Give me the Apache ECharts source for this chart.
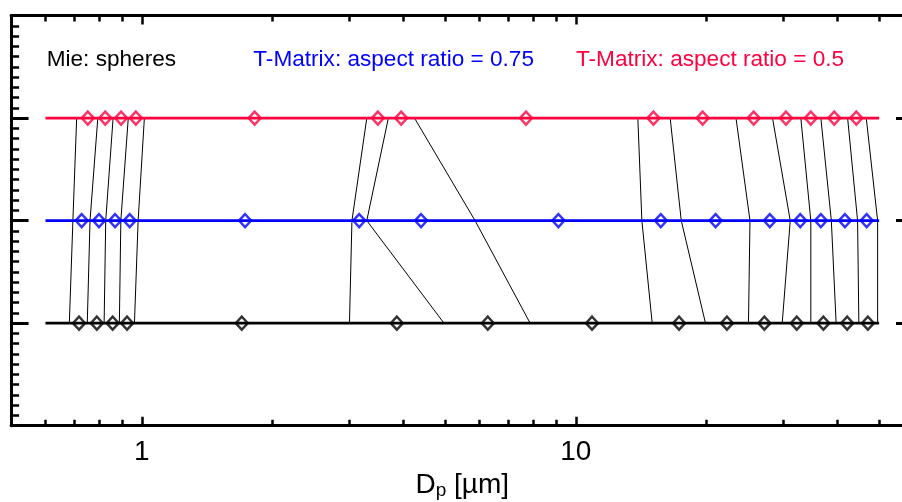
<!DOCTYPE html>
<html>
<head>
<meta charset="utf-8">
<script src="https://cdn.jsdelivr.net/npm/echarts@6/dist/echarts.min.js"></script>
<style>
  html, body { margin: 0; padding: 0; background: #ffffff; }
  #chart { width: 902px; height: 502px; }
</style>
</head>
<body>
<div id="chart"></div>
<script>
// Size-bin layout of three scattering models on a common diameter axis (µm).
// Each row holds the bin centres (diamonds); thin black lines join the
// matching bin edges from row to row.

const rowNames = ['Mie: spheres', 'T-Matrix: aspect ratio = 0.75', 'T-Matrix: aspect ratio = 0.5'];
const rowLevels = [1, 2, 3];
const rowSpan = [0.6, 50];

// bin centres, µm
const mieCenters  = [0.717, 0.788, 0.857, 0.925, 1.70, 3.87, 6.27, 10.9, 17.3, 22.3, 27.2, 32.3, 37.2, 42.2, 47.1];
const t075Centers = [0.727, 0.797, 0.868, 0.938, 1.73, 3.17, 4.40, 9.12, 15.7, 21.0, 28.0, 32.9, 36.7, 41.7, 46.8];
const t05Centers  = [0.751, 0.824, 0.896, 0.969, 1.82, 3.50, 3.96, 7.68, 15.1, 19.6, 25.7, 30.5, 34.8, 39.4, 44.3];

// bin edges, µm
const mieEdges  = [0.681, 0.749, 0.819, 0.888, 0.962, 3.01, 4.97, 7.85, 15.0, 19.9, 25.0, 29.9, 34.8, 39.8, 44.9, 49.6];
const t075Edges = [0.694, 0.760, 0.826, 0.895, 0.981, 3.05, 3.30, 5.86, 14.2, 17.5, 25.2, 31.2, 34.8, 38.8, 44.6, 49.6];
const t05Edges  = [0.708, 0.792, 0.859, 0.931, 1.014, 3.30, 3.70, 4.25, 13.9, 16.5, 23.4, 28.4, 33.0, 36.7, 42.3, 46.7];

// axis ticks
const xMajorTicks = [1, 10];
const xMinorTicks = [0.6, 0.7, 0.8, 0.9, 2, 3, 4, 5, 6, 7, 8, 9, 20, 30, 40, 50];
const xRange = [0.5, 60];
const yRange = [0, 4];

const FONT = '"Liberation Sans", Arial, Helvetica, sans-serif';
const RED = '#ff0040';
const BLUE = '#0000ff';
const BLACK = '#000000';
const rowColors = [BLACK, BLUE, RED];
const rowCenters = [mieCenters, t075Centers, t05Centers];

const gridBox = {
  left: 11.1, right: -11.5, top: 15.5, bottom: 76.3,
  containLabel: false, outerBoundsMode: 'none'
};

function logAxis(gridIndex, position, ticks, tickLen, tickWidth, withLine, withLabels) {
  const ax = {
    type: 'log',
    logBase: 10,
    gridIndex: gridIndex,
    position: position,
    min: xRange[0],
    max: xRange[1],
    axisLine: { show: withLine, onZero: false, lineStyle: { color: BLACK, width: 3 } },
    axisTick: { show: true, inside: true, length: tickLen, customValues: ticks,
                lineStyle: { color: BLACK, width: tickWidth } },
    axisLabel: { show: false },
    splitLine: { show: false },
    minorTick: { show: false },
    minorSplitLine: { show: false }
  };
  if (withLabels) {
    ax.axisLabel = {
      show: true, customValues: xMajorTicks, margin: 13,
      color: BLACK, fontSize: 28, fontFamily: FONT,
      formatter: function (v) { return String(v); }
    };
    ax.name = '{d|D}{s|p}{d| [µm]}';
    ax.nameLocation = 'middle';
    ax.nameGap = 45;
    ax.nameTextStyle = {
      color: BLACK, fontFamily: FONT,
      rich: {
        d: { fontSize: 28, fontFamily: FONT, color: BLACK, lineHeight: 30 },
        s: { fontSize: 19, fontFamily: FONT, color: BLACK, lineHeight: 14, verticalAlign: 'bottom' }
      }
    };
  }
  return ax;
}

function valAxis(gridIndex, position, visible) {
  return {
    type: 'value',
    gridIndex: gridIndex,
    position: position,
    min: yRange[0],
    max: yRange[1],
    interval: 1,
    show: visible,
    axisLine: { show: true, onZero: false, lineStyle: { color: BLACK, width: 3 } },
    axisTick: { show: true, inside: true, length: 17.5, lineStyle: { color: BLACK, width: 3 } },
    minorTick: { show: true, splitNumber: 10, length: 8, lineStyle: { color: BLACK, width: 2.5 } },
    axisLabel: { show: false },
    splitLine: { show: false },
    minorSplitLine: { show: false }
  };
}

const series = [];

// connectors between matching bin edges (top row -> middle row -> bottom row)
for (let k = 0; k < mieEdges.length; k++) {
  series.push({
    type: 'line', xAxisIndex: 0, yAxisIndex: 0, silent: true, z: 1,
    symbol: 'none',
    lineStyle: { color: BLACK, width: 1 },
    data: [[t05Edges[k], rowLevels[2]], [t075Edges[k], rowLevels[1]], [mieEdges[k], rowLevels[0]]]
  });
}

// one horizontal line per model
rowLevels.forEach(function (lv, i) {
  series.push({
    type: 'line', name: rowNames[i], xAxisIndex: 0, yAxisIndex: 0, silent: true, z: 2,
    symbol: 'none',
    lineStyle: { color: rowColors[i], width: 2.7 },
    data: rowSpan.map(function (x) { return [x, lv]; })
  });
});

// bin centres as open diamonds
rowLevels.forEach(function (lv, i) {
  series.push({
    type: 'scatter', name: rowNames[i], xAxisIndex: 0, yAxisIndex: 0, silent: true, z: 3,
    symbol: 'diamond',
    symbolSize: [12, 13],
    itemStyle: { color: 'rgba(0,0,0,0)', borderColor: rowColors[i], borderWidth: 2.5 },
    data: rowCenters[i].map(function (x) { return [x, lv]; })
  });
});

const legendX = [46.7, 253.3, 576];

const option = {
  animation: false,
  backgroundColor: '#ffffff',
  grid: [Object.assign({}, gridBox), Object.assign({}, gridBox)],
  xAxis: [
    logAxis(0, 'bottom', xMajorTicks, 9, 2.5, true, true),
    logAxis(0, 'top', xMajorTicks, 9, 2.5, true, false),
    logAxis(1, 'bottom', xMinorTicks, 6, 2.5, false, false),
    logAxis(1, 'top', xMinorTicks, 6, 2.5, false, false)
  ],
  yAxis: [
    valAxis(0, 'left', true),
    valAxis(0, 'right', true),
    valAxis(1, 'left', false)
  ],
  graphic: rowNames.map(function (label, i) {
    return {
      type: 'text',
      x: legendX[i],
      y: 59.5,
      silent: true,
      style: {
        text: label,
        fill: rowColors[i],
        fontSize: 22.6,
        fontFamily: FONT,
        align: 'left',
        verticalAlign: 'middle'
      }
    };
  }),
  series: series
};

const chart = echarts.init(document.getElementById('chart'), null, { renderer: 'canvas' });
chart.setOption(option);
</script>
</body>
</html>
